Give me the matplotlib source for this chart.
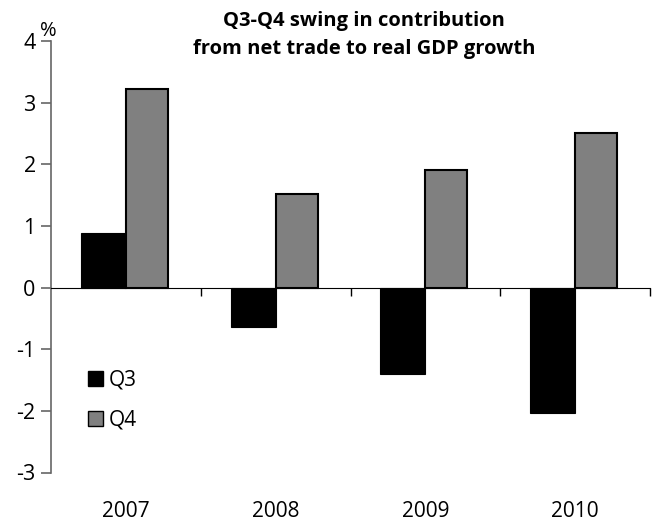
import matplotlib.pyplot as plt
from matplotlib.patches import Patch

plt.rcParams['font.family'] = ['Open Sans', 'DejaVu Sans']

# Contribution swing, percentage points
years = ["2007", "2008", "2009", "2010"]
q3 = [0.88, -0.64, -1.40, -2.04]
q4 = [3.22, 1.51, 1.90, 2.51]

fig = plt.figure(figsize=(6.56, 5.23), dpi=100)
ax = fig.add_axes([51 / 656, 1 - 472.5 / 523, 599 / 656, 431.5 / 523])

x = list(range(len(years)))
ax.bar(x, q3, width=-0.30, align="edge", color="black", edgecolor="black",
       linewidth=0.8, label="Q3")
ax.bar(x, q4, width=0.28, align="edge", color="#808080", edgecolor="black",
       linewidth=1.5, label="Q4")

ax.set_xlim(-0.5, 3.5)
ax.set_ylim(-3, 4)
ax.set_yticks(range(-3, 5))
ax.set_yticklabels([str(v) for v in range(-3, 5)], fontsize=15.5)

# zero line with small ticks between the year groups
ax.spines["bottom"].set_position(("data", 0))
ax.spines["bottom"].set_color("black")
ax.set_xticks([0.5, 1.5, 2.5, 3.5])
ax.set_xticklabels([])
ax.tick_params(axis="x", direction="out", length=6, width=1, color="black")
ax.spines["left"].set_color("#666666")
ax.spines["left"].set_linewidth(1.2)
ax.tick_params(axis="y", direction="out", length=7, width=1.2, color="#666666", pad=4)
for side in ("top", "right"):
    ax.spines[side].set_visible(False)

for xi, yr in zip(x, years):
    ax.text(xi, -0.09, yr, transform=ax.get_xaxis_transform(),
            ha="center", va="center", fontsize=15)

ax.text(-0.019, 1.0, "%", transform=ax.transAxes, ha="left", va="bottom", fontsize=14.5)

fig.text(0.555, 1 - 35 / 523, "Q3-Q4 swing in contribution\nfrom net trade to real GDP growth",
         ha="center", va="center", fontsize=14.5, fontweight="bold", linespacing=1.5)

handles = [Patch(facecolor="black", edgecolor="black", label="Q3"),
           Patch(facecolor="#808080", edgecolor="black", label="Q4")]
ax.legend(handles=handles, loc="upper left", bbox_to_anchor=(0.048, 0.257),
          frameon=False, fontsize=15, handlelength=0.7, handleheight=0.7,
          handletextpad=0.3, labelspacing=0.9, borderaxespad=0)

fig.savefig("out.png", dpi=100)
